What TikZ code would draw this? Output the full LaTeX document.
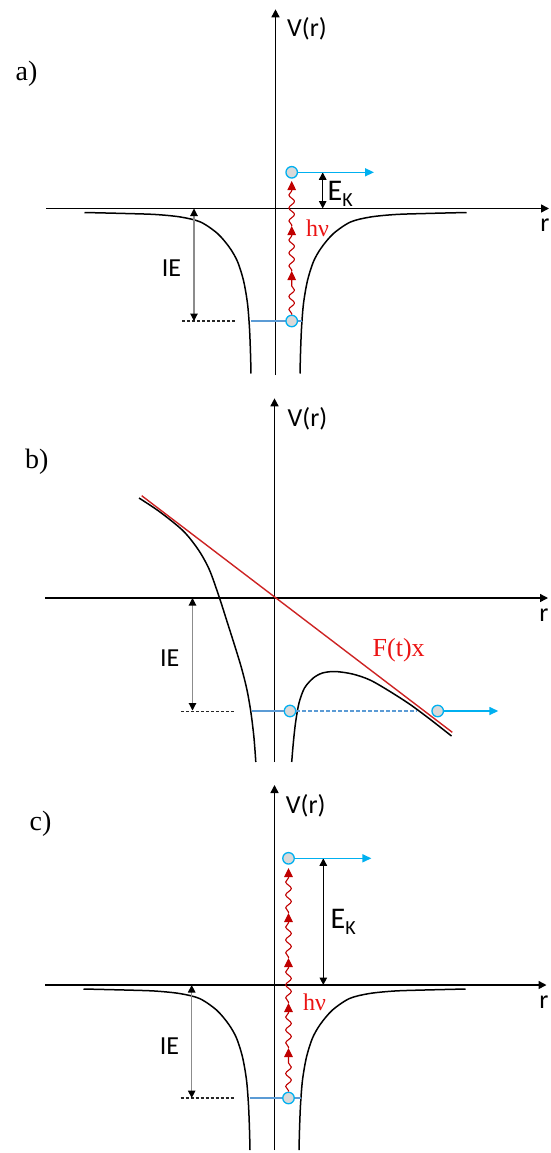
\documentclass[tikz,border=0pt]{standalone}
\usepackage{fontspec}
\setmainfont{Carlito}
\newfontfamily\tms{Liberation Serif}
\usetikzlibrary{arrows.meta,decorations.pathmorphing}
\definecolor{photonred}{HTML}{C00000}
\definecolor{fieldred}{RGB}{205,35,35}
\definecolor{txtred}{RGB}{235,20,20}
\definecolor{elblue}{HTML}{00B0F0}
\definecolor{lvlblue}{HTML}{5B9BD5}
\definecolor{elgray}{HTML}{D9D9D9}
\begin{document}
\begin{tikzpicture}[x=1pt, y=1pt, line join=round,
	axline/.style={line width=1.5pt, -{Triangle[length=8pt,width=8pt]}},
	potline/.style={line width=1.5pt},
	fline/.style={fieldred, line width=1.4pt},
	bound/.style={black!85, line width=1.2pt, dash pattern=on 3pt off 2pt},
	iegap/.style={black!45, line width=1.1pt, {Triangle[length=7.5pt,width=7.5pt,color=black]}-{Triangle[length=7.5pt,width=7.5pt,color=black]}},
	ekgap/.style={line width=1.1pt, {Triangle[length=7.5pt,width=7.5pt]}-{Triangle[length=7.5pt,width=7.5pt]}},
	lvl/.style={lvlblue, line width=1.4pt},
	lvldash/.style={lvlblue, line width=1.2pt, dash pattern=on 4pt off 2pt},
	elec/.style={circle, draw=elblue, fill=elgray, line width=1.3pt, minimum size=11.5pt, inner sep=0pt},
	escape/.style={elblue, line width=1.5pt, -{Triangle[length=9pt,width=8pt]}},
	photon/.style={photonred, line width=1.1pt, decorate, decoration={snake, amplitude=2.8pt, segment length=13pt, pre length=1pt, post length=9pt}, -{Triangle[length=9pt,width=8.5pt]}},
	sanslab/.style={inner sep=0pt, font=\fontsize{26}{28}\selectfont},
	serlab/.style={inner sep=0pt, font=\tms\fontsize{28}{30}\selectfont},
	redlab/.style={inner sep=0pt, txtred, font=\tms\fontsize{24}{26}\selectfont},
	eklab/.style={inner sep=0pt, anchor=base west, font=\fontsize{30}{32}\selectfont}]
	\useasboundingbox (0,-1153) rectangle (551,0);
	% a) single photon picture
	\begin{scope}[shift={(275.5,-208.5)}]
	\coordinate (Xa1) at (-229.5,0);
	\coordinate (Xa2) at (273.5,0);
	\coordinate (Ya1) at (0,-166.5);
	\coordinate (Ya2) at (0,199.2);
	\draw[axline] (Xa1) -- (Xa2);
	\draw[axline] (Ya1) -- (Ya2);
	\foreach \s in {1,-1}
	\draw[potline, xscale=\s] plot[smooth] coordinates {(-191,-4) (-150,-5) (-120,-6) (-95,-8.5) (-75,-13.5) (-58,-25) (-46,-39) (-38,-53) (-32,-72) (-28,-95) (-26,-120) (-25,-145) (-24.5,-165)};
	\coordinate (Da1) at (-93.5,-112.5);
	\coordinate (Da2) at (-39.5,-112.5);
	\draw[bound] (Da1) -- (Da2);
	\coordinate (La1) at (-24.5,-112.5);
	\coordinate (La2) at (26.5,-112.5);
	\draw[lvl] (La1) -- (La2);
	\coordinate (Ia1) at (-81.5,0);
	\coordinate (Ia2) at (-81.5,-112.5);
	\draw[iegap] (Ia1) -- (Ia2);
	\coordinate (Ka1) at (47.2,0);
	\coordinate (Ka2) at (47.2,36.2);
	\draw[ekgap] (Ka1) -- (Ka2);
	\foreach \k in {1,2,3}
	\coordinate (pa\k) at (16.2,{-107.5+45*\k});
	\node[elec] (ea0) at (16.2,-112.5) {};
	\node[elec] (ea1) at (16.2,36.2) {};
	\coordinate (fa) at (98.5,36.2);
	\draw[escape] (ea1) -- (fa);
	\draw[photon] (ea0) -- (pa1);
	\draw[photon] (pa1) -- (pa2);
	\draw[photon] (pa2) -- (pa3);
	\node[serlab] (ta) at (-249,135.2) {a)};
	\node[sanslab] (Va) at (31.5,179.5) {V(r)};
	\node[sanslab] (ra) at (269.5,-16.5) {r};
	\node[sanslab] (IEa) at (-104,-59.5) {IE};
	\node[redlab] (hva) at (42,-20) {hν};
	\node[eklab] (EKa) at (52,8.5) {E\raisebox{-6.5pt}{\fontsize{20}{20}\selectfont K}};
	\end{scope}
	% b) tunnelling in the field
	\begin{scope}[shift={(274.5,-598)}]
	\coordinate (Xb1) at (-229.5,0);
	\coordinate (Xb2) at (273.5,0);
	\coordinate (Yb1) at (0,-164);
	\coordinate (Yb2) at (0,199.7);
	\draw[axline] (Xb1) -- (Xb2);
	\draw[axline] (Yb1) -- (Yb2);
	\draw[potline] plot[smooth] coordinates {(-135.5,100) (-114.5,86) (-91.2,67) (-76,48) (-65,28) (-55,0) (-47,-25) (-40,-47) (-33,-70) (-27.5,-92) (-23.5,-115) (-20.5,-140) (-18.7,-164)};
	\draw[potline] plot[smooth] coordinates {(17.2,-164) (18.8,-145) (21,-125) (24.5,-105) (30,-90) (38.8,-80) (48,-75) (60.5,-73.5) (78,-76) (95.5,-82) (115,-93.2) (135.5,-106.4) (155,-120.8) (177,-138)};
	\coordinate (Fb1) at (-132.8,102.3);
	\coordinate (Fb2) at (177.8,-134.3);
	\draw[fline] (Fb1) -- (Fb2);
	\coordinate (Db1) at (-93.5,-113.5);
	\coordinate (Db2) at (-39.8,-113.5);
	\draw[bound] (Db1) -- (Db2);
	\coordinate (Ib1) at (-82,0);
	\coordinate (Ib2) at (-82,-112.5);
	\draw[iegap] (Ib1) -- (Ib2);
	\node[elec] (eb0) at (15.5,-113) {};
	\node[elec] (eb1) at (163.2,-113) {};
	\coordinate (Lb1) at (-22.2,-113);
	\coordinate (Lb2) at (142,-113);
	\coordinate (fb) at (223.8,-113);
	\draw[lvl] (Lb1) -- (eb0);
	\draw[lvldash] (eb0) -- (Lb2);
	\draw[escape] (eb1) -- (fb);
	\node[serlab] (tb) at (-237.6,136.3) {b)};
	\node[sanslab] (Vb) at (33,179.7) {V(r)};
	\node[sanslab] (rb) at (269.5,-17) {r};
	\node[sanslab] (IEb) at (-104.8,-60.3) {IE};
	\node[redlab, font=\tms\fontsize{26}{28}\selectfont] (Ftx) at (124.2,-52) {F(t)x};
	\end{scope}
	% c) several photons
	\begin{scope}[shift={(274.5,-985)}]
	\coordinate (Xc1) at (-229.5,0);
	\coordinate (Xc2) at (272,0);
	\coordinate (Yc1) at (0,-165);
	\coordinate (Yc2) at (0,200);
	\draw[axline] (Xc1) -- (Xc2);
	\draw[axline] (Yc1) -- (Yc2);
	\foreach \s in {1,-1}
	\draw[potline, xscale=\s] plot[smooth] coordinates {(-191,-4) (-150,-5) (-120,-6) (-95,-8.5) (-75,-13.5) (-58,-25) (-46,-39) (-38,-53) (-32,-72) (-28,-95) (-26,-120) (-25,-145) (-24.5,-165)};
	\coordinate (Dc1) at (-94,-113);
	\coordinate (Dc2) at (-41,-113);
	\draw[bound] (Dc1) -- (Dc2);
	\coordinate (Lc1) at (-24.5,-113);
	\coordinate (Lc2) at (26,-113);
	\draw[lvl] (Lc1) -- (Lc2);
	\coordinate (Ic1) at (-82.8,0);
	\coordinate (Ic2) at (-82.8,-113);
	\draw[iegap] (Ic1) -- (Ic2);
	\coordinate (Kc1) at (48.8,0);
	\coordinate (Kc2) at (48.8,126.7);
	\draw[ekgap] (Kc1) -- (Kc2);
	\foreach \k in {1,...,5}
	\coordinate (pc\k) at (14,{-108+45*\k});
	\node[elec] (ec0) at (14,-113) {};
	\node[elec] (ec1) at (14,126.7) {};
	\coordinate (fc) at (96.9,126.7);
	\draw[escape] (ec1) -- (fc);
	\draw[photon] (ec0) -- (pc1);
	\foreach \k [count=\j from 2] in {1,...,4}
	\draw[photon] (pc\k) -- (pc\j);
	\node[serlab] (tc) at (-234,161.7) {c)};
	\node[sanslab] (Vc) at (31.2,179) {V(r)};
	\node[sanslab] (rc) at (269.5,-16.7) {r};
	\node[sanslab] (IEc) at (-105,-61) {IE};
	\node[redlab] (hvc) at (40,-17) {hν};
	\node[eklab] (EKc) at (56,57) {E\raisebox{-6.5pt}{\fontsize{20}{20}\selectfont K}};
	\end{scope}
\end{tikzpicture}
\end{document}
